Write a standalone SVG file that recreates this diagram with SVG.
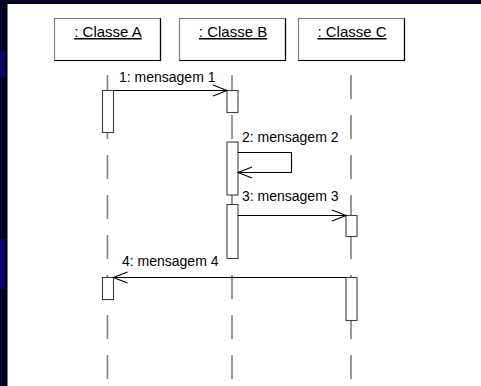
<svg xmlns="http://www.w3.org/2000/svg" width="481" height="386" viewBox="0 0 481 386">
  <style>
    .cls { fill: #ffffff; stroke: #808080; stroke-width: 1.2; }
    .edge { fill: none; stroke: #000000; stroke-width: 1.2; }
    .name { font-family: "Liberation Sans", Arial, sans-serif; font-size: 15px; fill: #000000; text-anchor: middle; text-decoration: underline; }
    .life { stroke: #808080; stroke-width: 1.6; stroke-dasharray: 24 16; }
    .act { fill: #ffffff; stroke: #404040; stroke-width: 1.1; }
    .msg { fill: none; stroke: #000000; stroke-width: 1.1; }
    .lbl { font-family: "Liberation Sans", Arial, sans-serif; font-size: 14px; fill: #000000; }
  </style>

  <!-- slide frame -->
  <rect x="0" y="0" width="481" height="386" fill="#ffffff"/>
  <rect x="0" y="0" width="481" height="4" fill="#000000"/>
  <rect x="0" y="0" width="481" height="2" fill="#06063a"/>
  <rect x="0" y="0" width="7.5" height="386" fill="#000000"/>
  <rect x="0" y="0" width="5.5" height="386" fill="#03032a"/>
  <rect x="0" y="51" width="5.5" height="26" fill="#06066e"/>
  <rect x="0" y="239" width="5.5" height="50" fill="#06066e"/>

  <!-- lifelines -->
  <g id="lifelines">
    <line class="life" x1="107.5" y1="75" x2="107.5" y2="386"/>
    <line class="life" x1="232" y1="75" x2="232" y2="386"/>
    <line class="life" x1="351" y1="75" x2="351" y2="386"/>
  </g>

  <g id="classe-a">
    <rect class="cls" x="54.5" y="18.5" width="106" height="42"/>
    <path class="edge" d="M160.5 18.5 V60.5 H54.5"/>
    <text class="name" x="108" y="37">: Classe A</text>
  </g>
  <g id="classe-b">
    <rect class="cls" x="179.5" y="18.5" width="106" height="42"/>
    <path class="edge" d="M285.5 18.5 V60.5 H179.5"/>
    <text class="name" x="233" y="37">: Classe B</text>
  </g>
  <g id="classe-c">
    <rect class="cls" x="298.5" y="18.5" width="106" height="42"/>
    <path class="edge" d="M404.5 18.5 V60.5 H298.5"/>
    <text class="name" x="352" y="37">: Classe C</text>
  </g>

  <!-- activation bars -->
  <g id="activations">
    <rect class="act" x="102.5" y="90.5" width="11" height="42"/>
    <rect class="act" x="227" y="90.5" width="11" height="22"/>
    <rect class="act" x="227" y="142" width="11" height="53"/>
    <rect class="act" x="227" y="204.5" width="11" height="54"/>
    <rect class="act" x="346" y="215.5" width="11" height="21"/>
    <rect class="act" x="102.5" y="277.5" width="11" height="22"/>
    <rect class="act" x="346" y="277.5" width="11" height="43"/>
  </g>

  <!-- messages -->
  <g id="connectors">
    <path class="msg" d="M113.5 90.5 H227 M213 85 L227 90.5 L213 96"/>
    <path class="msg" d="M238 152.5 H291.5 V172.5 H238 M252 167 L238 172.5 L252 178"/>
    <path class="msg" d="M238 215.5 H346 M332 210 L346 215.5 L332 221"/>
    <path class="msg" d="M346 277.5 H113.5 M127.5 272 L113.5 277.5 L127.5 283"/>
  </g>

  <g id="labels">
    <text class="lbl" x="119" y="82">1: mensagem 1</text>
    <text class="lbl" x="242" y="142">2: mensagem 2</text>
    <text class="lbl" x="242" y="201">3: mensagem 3</text>
    <text class="lbl" x="122" y="266">4: mensagem 4</text>
  </g>
</svg>
